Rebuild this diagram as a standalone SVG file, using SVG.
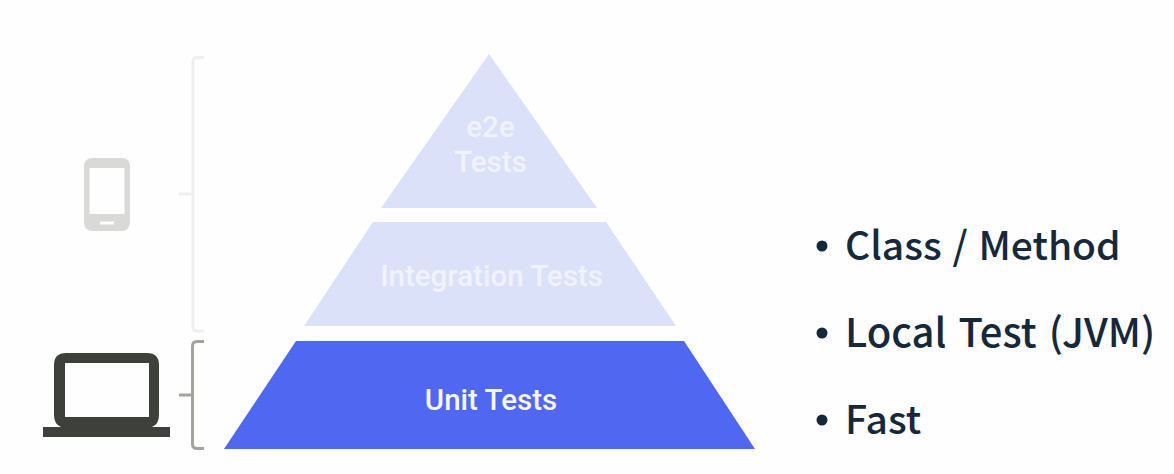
<svg xmlns="http://www.w3.org/2000/svg" width="1174" height="474" viewBox="0 0 1174 474">
<style>
.pale{fill:#dbe1f8}
.py{font-family:Roboto,"Liberation Sans",sans-serif;font-weight:500;font-size:29.500px;text-anchor:middle;fill:#f1f3fc}
.li{font-family:"Noto Sans CJK KR","Noto Sans",sans-serif;font-weight:500;font-size:39px;fill:#15293b}
.br{fill:none;stroke-width:3}
</style>
<rect width="1174" height="474" fill="#fefefe"/>
<g id="connectors">
<path class="br" stroke="#efefef" d="M204 57.500H197Q193 57.500 193 61.500V327Q193 331 197 331H204M193 194H179"/>
<path class="br" stroke="#a3a3a0" d="M204 341.500H197Q192.500 341.500 192.500 346V444Q192.500 448.500 197 448.500H204M192.500 395H179"/>
</g>
<g id="device-phone">
<rect x="84" y="158" width="46" height="73" rx="8" fill="#d9d9d8"/>
<rect x="89.500" y="168" width="35" height="46" fill="#fefefe"/>
<rect x="100" y="221.500" width="14" height="3" fill="#fefefe"/>
</g>
<g id="device-laptop">
<path fill="#3e413b" fill-rule="evenodd" d="M66 353H147Q159 353 159 365V415Q159 424 152 427H170V437H43V427H61Q54 424 54 415V365Q54 353 66 353ZM65 363V417H149V363Z"/>
</g>
<g id="tier-e2e">
<polygon class="pale" points="489,54 597,208 381,208"/>
<text class="py" x="490.500" y="137">e2e</text>
<text class="py" x="490.500" y="172">Tests</text>
</g>
<g id="tier-integration">
<polygon class="pale" points="373,222 606,222 676,326 304,326"/>
<text class="py" x="491.500" y="286">Integration Tests</text>
</g>
<g id="tier-unit">
<polygon fill="#5067f2" points="296,341 684,341 755,449 224,449"/>
<text class="py" x="491" y="410" style="fill:#f5f6fe">Unit Tests</text>
</g>
<g id="list">
<circle cx="822" cy="246" r="5.500" fill="#15293b"/>
<text class="li" x="845" y="260" word-spacing="2">Class / Method</text>
<circle cx="822" cy="333" r="5.500" fill="#15293b"/>
<text class="li" x="845" y="347" font-size="40" style="font-size:40px" word-spacing="3">Local Test (JVM)</text>
<circle cx="822" cy="420" r="5.500" fill="#15293b"/>
<text class="li" x="845" y="434">Fast</text>
</g>
</svg>
